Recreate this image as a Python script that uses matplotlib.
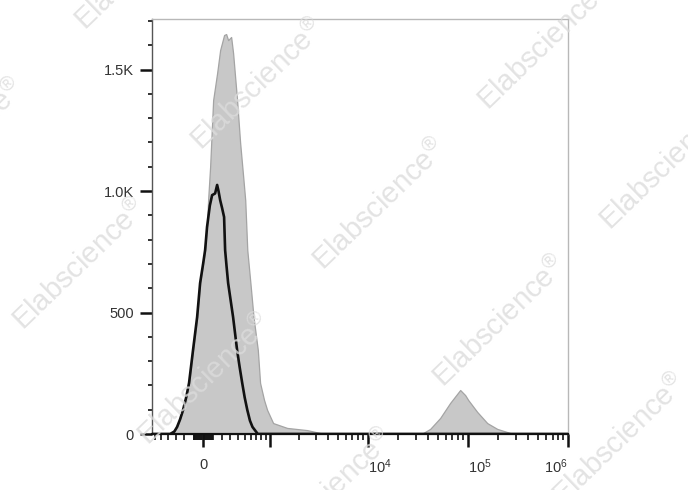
import numpy as np
import matplotlib
matplotlib.use("Agg")
import matplotlib.pyplot as plt
from matplotlib.ticker import FixedLocator, FixedFormatter

plt.rcParams['font.family'] = ['Liberation Sans', 'DejaVu Sans']
plt.rcParams['mathtext.fontset'] = 'custom'
plt.rcParams['mathtext.rm'] = 'Liberation Sans'
plt.rcParams['mathtext.it'] = 'Liberation Sans'
plt.rcParams['mathtext.default'] = 'regular'

# ---- data (fluorescence intensity, event count) ----
stained_x = [-660, -376, -286, -215, -148, -105, -62, -31, 21, 41, 52, 73, 105, 148, 181,
             226, 250, 274, 311, 336, 389, 432, 477, 508, 541, 593, 648, 729, 775,
             860, 931, 1083, 1524, 2447, 3314, 4500, 33000, 35660, 41890, 52740, 66400,
             83590, 93800, 100500, 123600, 155700, 196000, 246700, 283300, 1e6]
stained_y = [0, 0, 29, 99, 210, 346, 481, 621, 757, 860, 963, 1099, 1374, 1486, 1580,
             1642, 1646, 1621, 1634, 1568, 1374, 1198, 1058, 963, 757, 621, 481, 346, 210,
             140, 99, 45, 25, 16, 4, 0, 0, 4, 21, 66, 128,
             181, 160, 140, 91, 45, 21, 8, 0, 0]

control_x = [-660, -376, -320, -286, -250, -215, -180, -148, -105, -62, -31, 0, 21, 41,
             70, 94, 126, 148, 163, 181, 203, 226, 238, 255, 274, 305, 336, 389, 425,
             462, 500, 541, 585, 629, 729, 1e6]
control_y = [0, 0, 10, 29, 60, 99, 150, 210, 346, 481, 621, 700, 757, 852,
             940, 983, 990, 1025, 1000, 963, 930, 893, 757, 690, 621, 550, 481, 346, 275,
             210, 150, 99, 55, 29, 0, 0]

y_ticks = [0, 500, 1000, 1500]
y_ticklabels = ['0', '500', '1.0K', '1.5K']
x_ticks = [0, 1e3, 1e4, 1e5, 1e6]
x_ticklabels = ['0', '', '$10^4$', '$10^5$', '$10^6$']

W = 450.0
def fwd(x):
    return np.arcsinh(np.asarray(x, dtype=float) / W) / np.log(10)
def inv(y):
    return W * np.sinh(np.asarray(y, dtype=float) * np.log(10))

fig = plt.figure(figsize=(6.88, 4.90), dpi=100)
ax = fig.add_axes([152/688, 56/490, 416/688, 415/490])
ax.set_xscale('function', functions=(fwd, inv))
ax.set_xlim(-660, 1e6)
ax.set_ylim(0, 1708)

ax.fill_between(stained_x, stained_y, 0, facecolor='#c8c8c8', edgecolor='#a4a4a4',
                linewidth=0.9, zorder=2)
ax.plot(control_x, control_y, color='#111111', linewidth=1.9, zorder=3,
        solid_joinstyle='round')

# ticks
minor_x = []
for k in range(1, 7):
    minor_x.append(-100 * k)
for k in range(1, 10):
    minor_x += [-10 * k, 10 * k]
for dec in [100, 1000, 10000, 100000]:
    for k in range(2 if dec > 100 else 1, 10):
        minor_x.append(k * dec)
ax.xaxis.set_major_locator(FixedLocator(x_ticks))
ax.xaxis.set_major_formatter(FixedFormatter(x_ticklabels))
ax.xaxis.set_minor_locator(FixedLocator(sorted(minor_x)))
ax.yaxis.set_major_locator(FixedLocator(y_ticks))
ax.yaxis.set_major_formatter(FixedFormatter(y_ticklabels))
ax.yaxis.set_minor_locator(FixedLocator(list(range(100, 1800, 100))))

ax.tick_params(axis='x', which='major', length=9, width=1.8, color='#111111',
               labelsize=10.5, labelcolor='#333333', pad=8)
ax.tick_params(axis='x', which='minor', length=4.5, width=1.2, color='#111111')
ax.tick_params(axis='y', which='major', length=9, width=1.8, color='#111111',
               labelsize=10.5, labelcolor='#333333', pad=4)
ax.tick_params(axis='y', which='minor', length=3, width=1.2, color='#111111')

for lbl, ha in zip(ax.get_xticklabels(), ['center', 'center', 'left', 'left', 'right']):
    lbl.set_horizontalalignment(ha)

ax.spines['left'].set_color('#555555')
ax.spines['left'].set_linewidth(1.0)
ax.spines['bottom'].set_color('#111111')
ax.spines['bottom'].set_linewidth(1.6)
ax.spines['top'].set_color('#b8b8b8')
ax.spines['top'].set_linewidth(1.0)
ax.spines['right'].set_color('#b8b8b8')
ax.spines['right'].set_linewidth(1.0)

# watermarks
wm_centers = [(142, -35), (258, 85), (380, 205), (500, 322), (620, 440),
              (-42, 145), (80, 265), (205, 380), (327, 495),
              (545, 45), (667, 165)]
for cx, cy in wm_centers:
    fig.text(cx / 688, 1 - cy / 490, 'Elabscience$^{\u00ae}$', fontsize=21,
             rotation=44, rotation_mode='anchor', ha='center', va='center',
             color='#dcdcdc', alpha=0.8, zorder=10)

fig.savefig('out.png', dpi=100)
